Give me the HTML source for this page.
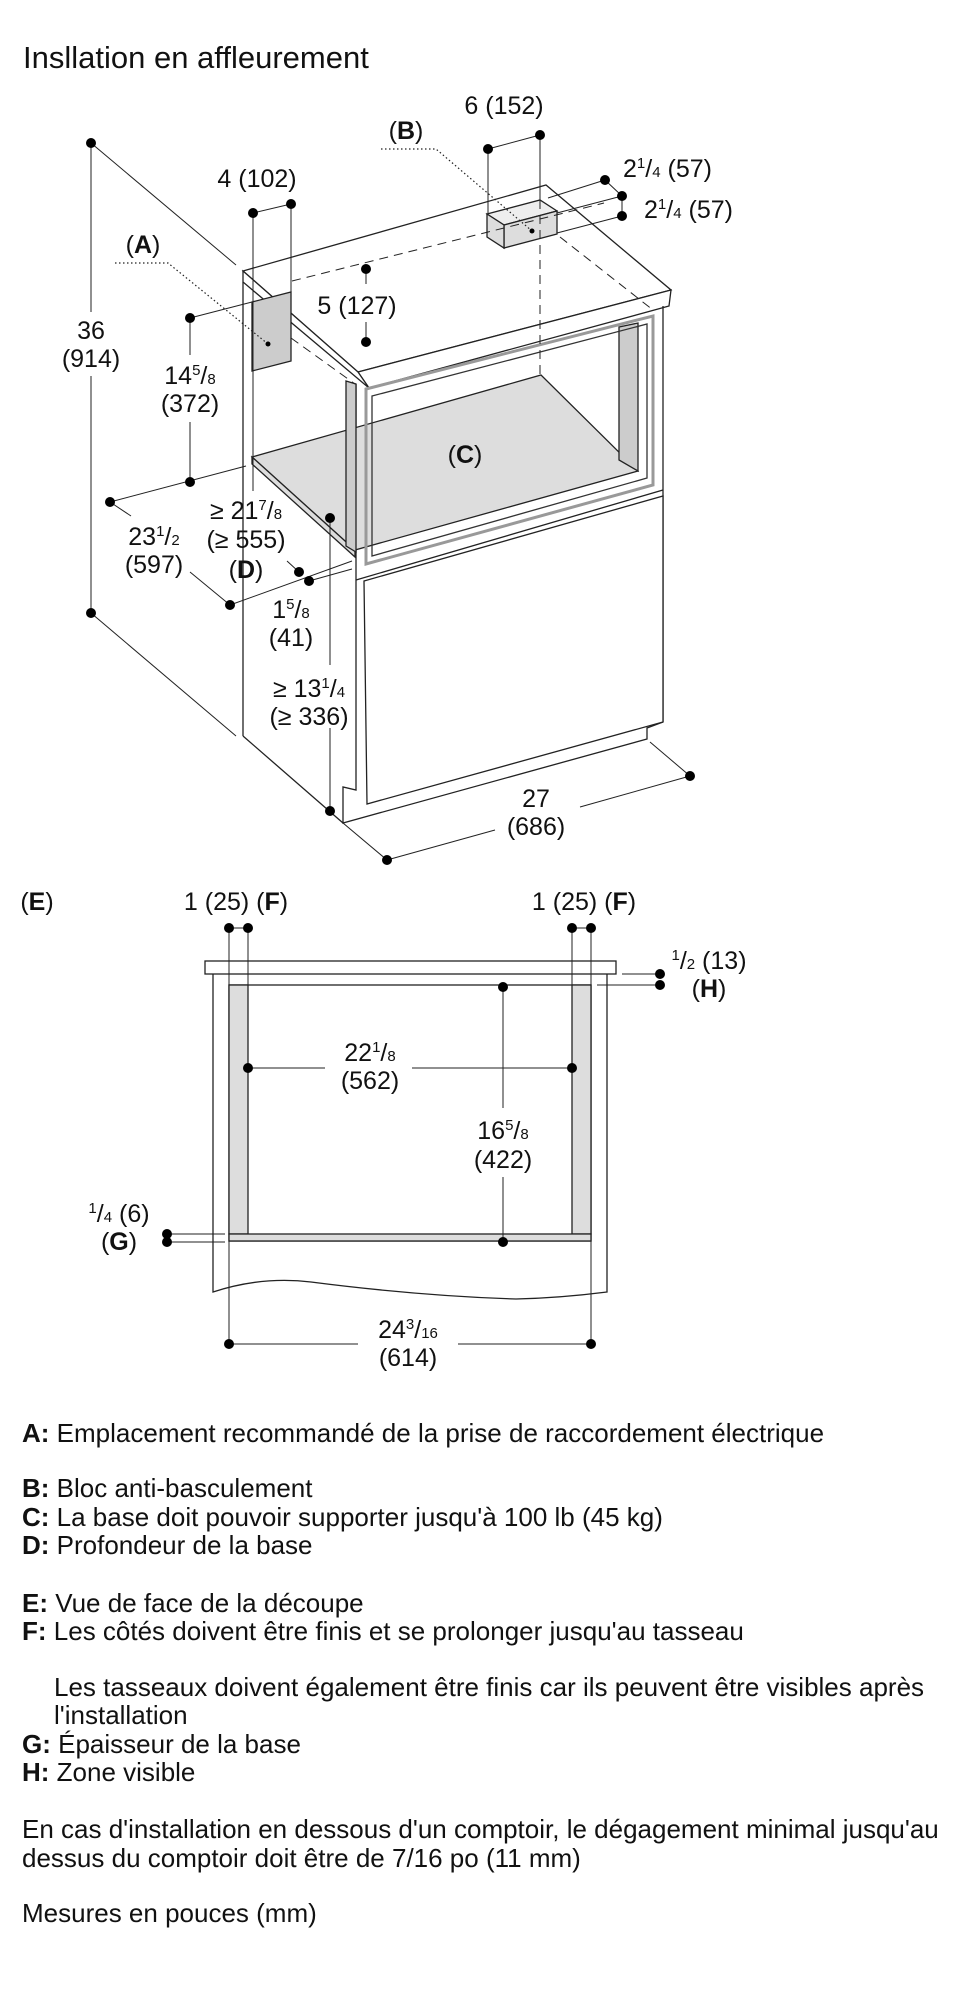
<!DOCTYPE html>
<html><head><meta charset="utf-8"><style>
html,body{margin:0;padding:0;background:#fff}
svg{display:block}
text{font-family:"Liberation Sans",sans-serif;fill:#111}
.l{font-size:25px}
.t{font-size:26px}
.s{font-size:15px}
</style></head><body>
<svg width="971" height="2000" viewBox="0 0 971 2000" xmlns="http://www.w3.org/2000/svg">
<text x="23" y="68" style="font-size:31px">Insllation en affleurement</text>

<g stroke="#222" stroke-width="1.3" fill="none">
<polygon points="243,271 546,185 671,290 358,372" fill="#fff"/>
<polygon points="358,372 671,290 669,306 369,388" fill="#fff"/>
<polygon points="243,271 358,372 369,388 243,282" fill="#fff"/>
<line x1="243" y1="282" x2="243" y2="736"/>
<line x1="243" y1="736" x2="343" y2="823"/>
<polyline points="356,384 356,790 343,787 343,823 647,739 647,728 663,722"/>
<line x1="663" y1="306" x2="663" y2="722"/>
<polygon points="252,457 541,375 638,471 355,550" fill="#ddd"/>
<polygon points="252,457 355,550 355,557 252,464" fill="#ddd"/>
<polygon points="619,327 638,323 638,471 619,460" fill="#ccc"/>
<polygon points="346,381 356,384 356,552 346,546" fill="#ccc"/>
<polygon points="366,389 653,316 653,485 366,564" stroke="#999" stroke-width="3"/>
<polygon points="372,396 647,324 647,478 372,556" stroke="#333"/>
<polygon points="364,581 663,496 663,722 367,804" fill="#fff"/>
<line x1="356" y1="580" x2="663" y2="490"/>
<polygon points="252,302 291,292 291,361 252,371" fill="#ccc"/>
<polygon points="487,214 540,200 557,211 504,225" fill="#eee"/>
<polygon points="504,225 557,211 557,234 504,248" fill="#ddd"/>
<polygon points="487,214 504,225 504,248 487,237" fill="#ddd"/>
<g stroke-dasharray="9,6" stroke-width="1">
<line x1="292" y1="281" x2="604" y2="203"/>
<line x1="560" y1="237" x2="653" y2="310"/>
<line x1="253" y1="361" x2="253" y2="455"/>
<line x1="291" y1="338" x2="355" y2="384"/>
<line x1="540" y1="200" x2="540" y2="375"/>
</g>
<g stroke-width="1">
<line x1="91" y1="143" x2="91" y2="312"/><line x1="91" y1="376" x2="91" y2="613"/>
<line x1="91" y1="143" x2="236" y2="265"/><line x1="91" y1="613" x2="236" y2="736"/>
<line x1="253" y1="213" x2="291" y2="204"/>
<line x1="253" y1="213" x2="253" y2="491"/><line x1="291" y1="204" x2="291" y2="292"/>
<line x1="366" y1="269" x2="366" y2="284"/><line x1="366" y1="322" x2="366" y2="342"/>
<line x1="190" y1="318" x2="252" y2="302"/><line x1="190" y1="318" x2="190" y2="355"/>
<line x1="190" y1="422" x2="190" y2="482"/><line x1="110" y1="502" x2="246" y2="466"/>
<line x1="110" y1="502" x2="131" y2="516"/><line x1="190" y1="572" x2="230" y2="605"/>
<line x1="230" y1="605" x2="352" y2="561"/>
<line x1="287" y1="561" x2="299" y2="572"/><line x1="309" y1="581" x2="352" y2="569"/>
<line x1="330" y1="518" x2="330" y2="665"/><line x1="330" y1="728" x2="330" y2="811"/>
<line x1="343" y1="823" x2="387" y2="860"/><line x1="650" y1="742" x2="690" y2="776"/>
<line x1="387" y1="860" x2="495" y2="830"/><line x1="580" y1="807" x2="690" y2="776"/>
<line x1="488" y1="149" x2="540" y2="135"/>
<line x1="488" y1="149" x2="488" y2="214"/><line x1="540" y1="135" x2="540" y2="200"/>
<line x1="605" y1="180" x2="548" y2="198"/><line x1="622" y1="196" x2="557" y2="213"/>
<line x1="622" y1="216" x2="557" y2="233"/><line x1="605" y1="180" x2="622" y2="196"/>
<line x1="622" y1="196" x2="622" y2="216"/>
</g>
<g stroke-dasharray="1.5,2.5" stroke-width="1.2">
<polyline points="381,149 436,149 532,231"/>
<polyline points="115,263 168,263 268,344"/>
</g>
</g>
<g fill="#000">
<circle cx="91" cy="143" r="5"/><circle cx="91" cy="613" r="5"/>
<circle cx="253" cy="213" r="5"/><circle cx="291" cy="204" r="5"/>
<circle cx="366" cy="269" r="5"/><circle cx="366" cy="342" r="5"/>
<circle cx="190" cy="318" r="5"/><circle cx="190" cy="482" r="5"/>
<circle cx="110" cy="502" r="5"/><circle cx="230" cy="605" r="5"/>
<circle cx="299" cy="572" r="5"/><circle cx="309" cy="581" r="5"/>
<circle cx="330" cy="518" r="5"/><circle cx="330" cy="811" r="5"/>
<circle cx="387" cy="860" r="5"/><circle cx="690" cy="776" r="5"/>
<circle cx="488" cy="149" r="5"/><circle cx="540" cy="135" r="5"/>
<circle cx="605" cy="180" r="5"/><circle cx="622" cy="196" r="5"/><circle cx="622" cy="216" r="5"/>
<circle cx="532" cy="231" r="2.5"/><circle cx="268" cy="344" r="2.5"/>
</g>
<g class="l" text-anchor="middle">
<text x="91" y="339">36</text><text x="91" y="367">(914)</text>
<text x="257" y="187">4 (102)</text>
<text x="357" y="314">5 (127)</text>
<text x="190" y="384">14<tspan class="s" dy="-9">5</tspan><tspan dy="9">/</tspan><tspan class="s">8</tspan></text>
<text x="190" y="412">(372)</text>
<text x="154" y="545">23<tspan class="s" dy="-9">1</tspan><tspan dy="9">/</tspan><tspan class="s">2</tspan></text>
<text x="154" y="573">(597)</text>
<text x="246" y="519">≥ 21<tspan class="s" dy="-9">7</tspan><tspan dy="9">/</tspan><tspan class="s">8</tspan></text>
<text x="246" y="548">(≥ 555)</text>
<text x="246" y="578">(<tspan font-weight="bold">D</tspan>)</text>
<text x="291" y="618">1<tspan class="s" dy="-9">5</tspan><tspan dy="9">/</tspan><tspan class="s">8</tspan></text>
<text x="291" y="646">(41)</text>
<text x="309" y="697">≥ 13<tspan class="s" dy="-9">1</tspan><tspan dy="9">/</tspan><tspan class="s">4</tspan></text>
<text x="309" y="725">(≥ 336)</text>
<text x="536" y="807">27</text><text x="536" y="835">(686)</text>
<text x="504" y="114">6 (152)</text>
<text x="406" y="139">(<tspan font-weight="bold">B</tspan>)</text>
<text x="143" y="253">(<tspan font-weight="bold">A</tspan>)</text>
<text x="465" y="463">(<tspan font-weight="bold">C</tspan>)</text>
</g>
<g class="l">
<text x="623" y="177">2<tspan class="s" dy="-9">1</tspan><tspan dy="9">/</tspan><tspan class="s">4</tspan> (57)</text>
<text x="644" y="218">2<tspan class="s" dy="-9">1</tspan><tspan dy="9">/</tspan><tspan class="s">4</tspan> (57)</text>
</g>

<g stroke="#222" stroke-width="1.3" fill="none">
<rect x="205" y="961" width="411" height="13" fill="#fff"/>
<path d="M213,974 L213,1292 Q262,1276 311,1282 Q420,1296 516,1299 Q560,1298 607,1292 L607,974"/>
<rect x="229" y="985" width="362" height="256"/>
<rect x="229" y="985" width="19" height="249" fill="#ddd"/>
<rect x="572" y="985" width="19" height="249" fill="#ddd"/>
<rect x="229" y="1234" width="362" height="7" fill="#ddd"/>
<g stroke-width="1">
<line x1="229" y1="928" x2="248" y2="928"/><line x1="572" y1="928" x2="591" y2="928"/>
<line x1="229" y1="928" x2="229" y2="1344"/><line x1="248" y1="928" x2="248" y2="985"/>
<line x1="572" y1="928" x2="572" y2="985"/><line x1="591" y1="928" x2="591" y2="1344"/>
<line x1="248" y1="1068" x2="325" y2="1068"/><line x1="412" y1="1068" x2="572" y2="1068"/>
<line x1="503" y1="986" x2="503" y2="1108"/><line x1="503" y1="1177" x2="503" y2="1242"/>
<line x1="622" y1="974" x2="660" y2="974"/><line x1="597" y1="985" x2="660" y2="985"/>
<line x1="167" y1="1234" x2="225" y2="1234"/><line x1="167" y1="1242" x2="225" y2="1242"/>
<line x1="229" y1="1344" x2="358" y2="1344"/><line x1="458" y1="1344" x2="591" y2="1344"/>
</g>
</g>
<g fill="#000">
<circle cx="229" cy="928" r="5"/><circle cx="248" cy="928" r="5"/>
<circle cx="572" cy="928" r="5"/><circle cx="591" cy="928" r="5"/>
<circle cx="248" cy="1068" r="5"/><circle cx="572" cy="1068" r="5"/>
<circle cx="503" cy="987" r="5"/><circle cx="503" cy="1242" r="5"/>
<circle cx="660" cy="974" r="5"/><circle cx="660" cy="985" r="5"/>
<circle cx="167" cy="1234" r="5"/><circle cx="167" cy="1242" r="5"/>
<circle cx="229" cy="1344" r="5"/><circle cx="591" cy="1344" r="5"/>
</g>
<g class="l" text-anchor="middle">
<text x="37" y="910">(<tspan font-weight="bold">E</tspan>)</text>
<text x="236" y="910">1 (25) (<tspan font-weight="bold">F</tspan>)</text>
<text x="584" y="910">1 (25) (<tspan font-weight="bold">F</tspan>)</text>
<text x="370" y="1061">22<tspan class="s" dy="-9">1</tspan><tspan dy="9">/</tspan><tspan class="s">8</tspan></text>
<text x="370" y="1089">(562)</text>
<text x="503" y="1139">16<tspan class="s" dy="-9">5</tspan><tspan dy="9">/</tspan><tspan class="s">8</tspan></text>
<text x="503" y="1168">(422)</text>
<text x="709" y="969"><tspan class="s" dy="-9">1</tspan><tspan dy="9">/</tspan><tspan class="s">2</tspan> (13)</text>
<text x="709" y="997">(<tspan font-weight="bold">H</tspan>)</text>
<text x="119" y="1222"><tspan class="s" dy="-9">1</tspan><tspan dy="9">/</tspan><tspan class="s">4</tspan> (6)</text>
<text x="119" y="1250">(<tspan font-weight="bold">G</tspan>)</text>
<text x="408" y="1338">24<tspan class="s" dy="-9">3</tspan><tspan dy="9">/</tspan><tspan class="s">16</tspan></text>
<text x="408" y="1366">(614)</text>
</g>

<g class="t">
<text x="22" y="1442"><tspan font-weight="bold">A:</tspan> Emplacement recommandé de la prise de raccordement électrique</text>
<text x="22" y="1497"><tspan font-weight="bold">B:</tspan> Bloc anti-basculement</text>
<text x="22" y="1526"><tspan font-weight="bold">C:</tspan> La base doit pouvoir supporter jusqu'à 100 lb (45 kg)</text>
<text x="22" y="1554"><tspan font-weight="bold">D:</tspan> Profondeur de la base</text>
<text x="22" y="1612"><tspan font-weight="bold">E:</tspan> Vue de face de la découpe</text>
<text x="22" y="1640"><tspan font-weight="bold">F:</tspan> Les côtés doivent être finis et se prolonger jusqu'au tasseau</text>
<text x="54" y="1696">Les tasseaux doivent également être finis car ils peuvent être visibles après</text>
<text x="54" y="1724">l'installation</text>
<text x="22" y="1753"><tspan font-weight="bold">G:</tspan> Épaisseur de la base</text>
<text x="22" y="1781"><tspan font-weight="bold">H:</tspan> Zone visible</text>
<text x="22" y="1838">En cas d'installation en dessous d'un comptoir, le dégagement minimal jusqu'au</text>
<text x="22" y="1867">dessus du comptoir doit être de 7/16 po (11 mm)</text>
<text x="22" y="1922">Mesures en pouces (mm)</text>
</g>
</svg>
</body></html>
